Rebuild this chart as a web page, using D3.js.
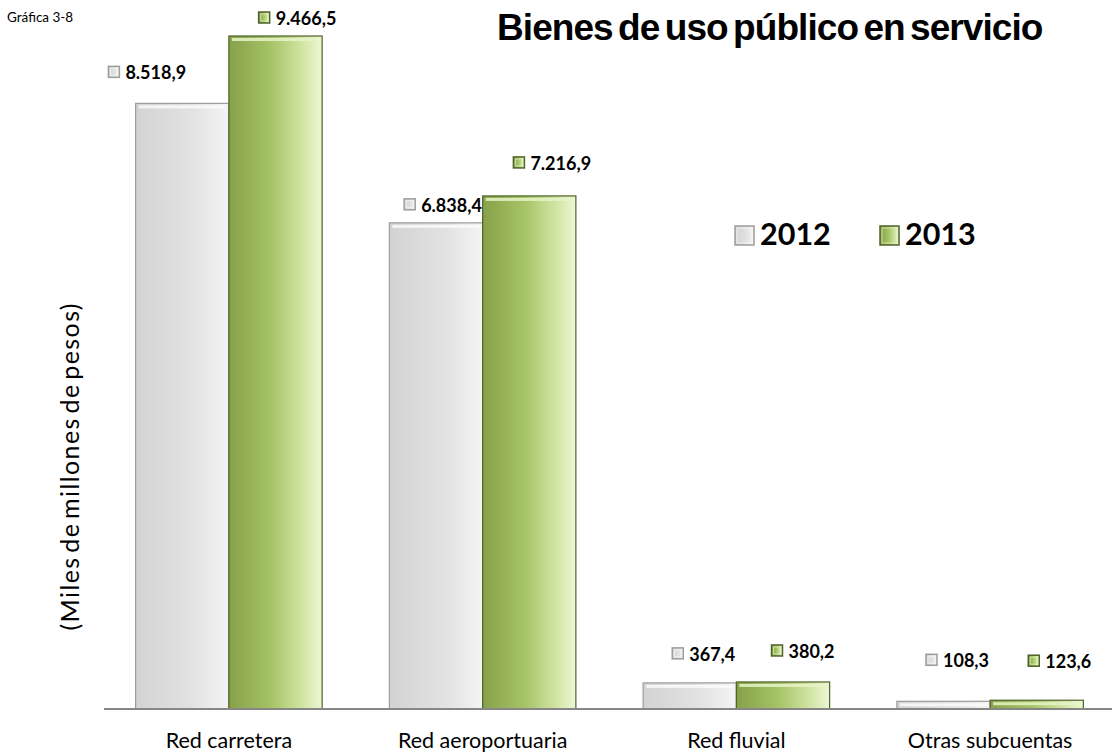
<!DOCTYPE html>
<html>
<head>
<meta charset="utf-8">
<script src="https://cdn.jsdelivr.net/npm/d3@7"></script>
<style>
  body { margin: 0; background: #fff; }
  svg { display: block; }
</style>
</head>
<body>
<div id="chart"></div>
<script>
const categories = ["Red carretera", "Red aeroportuaria", "Red fluvial", "Otras subcuentas"];
const years = ["2012", "2013"];
const values2012 = [8518.9, 6838.4, 367.4, 108.3];
const values2013 = [9466.5, 7216.9, 380.2, 123.6];
const valueLabels2012 = ["8.518,9", "6.838,4", "367,4", "108,3"];
const valueLabels2013 = ["9.466,5", "7.216,9", "380,2", "123,6"];

const width = 1112, height = 755;
const baseY = 709;
const font = "Lato, 'Open Sans', sans-serif";

const svg = d3.select("#chart").append("svg")
  .attr("width", width)
  .attr("height", height);

const defs = svg.append("defs");

function gradient(id, stops) {
  const g = defs.append("linearGradient").attr("id", id)
    .attr("x1", "0%").attr("x2", "100%").attr("y1", "0%").attr("y2", "0%");
  stops.forEach(s => g.append("stop").attr("offset", s[0]).attr("stop-color", s[1]));
}
gradient("g2012", [["0%", "#d3d3d3"], ["60%", "#e2e2e2"], ["100%", "#f4f4f4"]]);
gradient("g2013", [["0%", "#86a14a"], ["45%", "#a5c466"], ["80%", "#d3e6a6"], ["100%", "#eef6d6"]]);

const colors = {
  "2012": { fill: "url(#g2012)", stroke: "#9c9c9c", hi: "#fafafa" },
  "2013": { fill: "url(#g2013)", stroke: "#4f6228", hi: "#e8f3c8" }
};

const rows = categories.map((c, i) => ({
  category: c,
  bars: [
    { year: "2012", value: values2012[i], label: valueLabels2012[i] },
    { year: "2013", value: values2013[i], label: valueLabels2013[i] }
  ]
}));

const x = d3.scaleBand()
  .domain(categories)
  .range([102, 1117])
  .paddingInner(0.265)
  .paddingOuter(0.1325);

const xInner = d3.scaleBand()
  .domain(years)
  .range([0, x.bandwidth()]);

const y = d3.scaleLinear()
  .domain([0, 9466.5])
  .range([baseY, 36]);

// bars
const groups = svg.append("g").selectAll("g")
  .data(rows)
  .join("g")
  .attr("transform", d => `translate(${x(d.category)},0)`);

const bar = groups.selectAll("g.bar")
  .data(d => d.bars)
  .join("g")
  .attr("class", "bar");

bar.append("rect")
  .attr("x", d => xInner(d.year))
  .attr("y", d => y(d.value))
  .attr("width", xInner.bandwidth())
  .attr("height", d => baseY - y(d.value))
  .attr("fill", d => colors[d.year].fill)
  .attr("stroke", d => colors[d.year].stroke)
  .attr("stroke-width", 1.2);

// bevel highlight at top
bar.append("rect")
  .attr("x", d => xInner(d.year) + 3)
  .attr("y", d => y(d.value) + 2)
  .attr("width", xInner.bandwidth() - 6)
  .attr("height", d => Math.min(3, Math.max(0, baseY - y(d.value) - 4)))
  .attr("fill", d => colors[d.year].hi)
  .attr("opacity", 0.85);

// axis line
svg.append("line")
  .attr("x1", 104).attr("x2", width)
  .attr("y1", baseY).attr("y2", baseY)
  .attr("stroke", "#868686")
  .attr("stroke-width", 2);

// category labels
const xAxis = d3.axisBottom(x).tickSize(0).tickPadding(16);
const axisG = svg.append("g")
  .attr("transform", `translate(0,${baseY + 8})`)
  .call(xAxis);
axisG.select(".domain").remove();
axisG.selectAll("text")
  .attr("font-family", font)
  .attr("font-size", 21.5)
  .attr("fill", "#000");

// legend-style swatch
function swatch(sel, year, size) {
  sel.append("rect")
    .attr("width", size).attr("height", size)
    .attr("fill", colors[year].fill)
    .attr("stroke", colors[year].stroke)
    .attr("stroke-width", 1.5);
  sel.append("rect")
    .attr("x", 2).attr("y", 2)
    .attr("width", size - 4).attr("height", size - 4)
    .attr("fill", "none")
    .attr("stroke", colors[year].hi)
    .attr("stroke-opacity", 0.7)
    .attr("stroke-width", 1);
}

// value labels: nudges relative to bar center / top
const labelDx = { "2012": [-35, 7, 14, 14], "2013": [22, 23, 20, 23] };
const labelDy = { "2012": [-24, -11, -22, -34], "2013": [-11, -26, -24, -32] };

rows.forEach((r, i) => {
  r.bars.forEach(b => {
    const cx = x(r.category) + xInner(b.year) + xInner.bandwidth() / 2 + labelDx[b.year][i];
    const by = y(b.value) + labelDy[b.year][i];
    const g = svg.append("g");
    const t = g.append("text")
      .attr("font-family", font)
      .attr("font-weight", "bold")
      .attr("font-size", 18)
      .attr("fill", "#000")
      .text(b.label);
    const tw = t.node().getComputedTextLength();
    const total = 11 + 6 + tw;
    const left = cx - total / 2;
    t.attr("x", left + 17).attr("y", by);
    const sw = g.append("g").attr("transform", `translate(${left},${by - 13})`);
    swatch(sw, b.year, 11);
  });
});

// legend
const legend = svg.append("g").attr("transform", "translate(735,226)");
const legendX = [0, 145];
years.forEach((yr, i) => {
  const lg = legend.append("g").attr("transform", `translate(${legendX[i]},0)`);
  swatch(lg, yr, 19);
  lg.append("text")
    .attr("x", 25).attr("y", 19)
    .attr("font-family", font)
    .attr("font-weight", "bold")
    .attr("font-size", 30.5)
    .attr("fill", "#000")
    .text(yr);
});

// title
svg.append("text")
  .attr("x", 497).attr("y", 40)
  .attr("font-family", "'Liberation Sans', Arial, sans-serif")
  .attr("font-weight", "bold")
  .attr("font-size", 37)
  .attr("letter-spacing", -1.4)
  .attr("word-spacing", -4)
  .attr("textLength", 545)
  .attr("lengthAdjust", "spacing")
  .attr("fill", "#000")
  .text("Bienes de uso público en servicio");

svg.append("text")
  .attr("x", 7).attr("y", 22)
  .attr("font-family", font)
  .attr("font-size", 13.5)
  .attr("fill", "#000")
  .text("Gráfica 3-8");

// y axis title
svg.append("text")
  .attr("transform", "translate(79,467) rotate(-90)")
  .attr("text-anchor", "middle")
  .attr("font-family", font)
  .attr("font-size", 25)
  .attr("word-spacing", -4)
  .attr("textLength", 327)
  .attr("lengthAdjust", "spacing")
  .attr("fill", "#000")
  .text("(Miles de millones de pesos)");
</script>
</body>
</html>
